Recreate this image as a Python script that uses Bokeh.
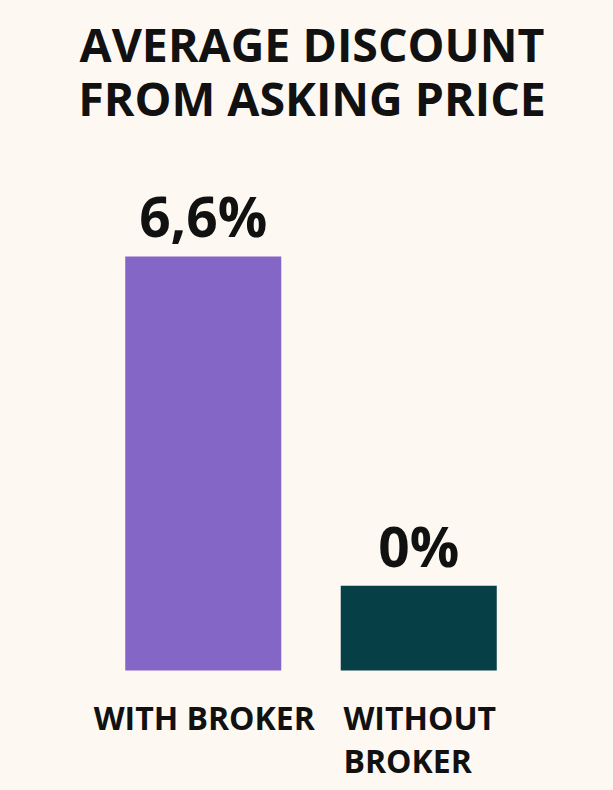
from bokeh.plotting import figure
from bokeh.models import ColumnDataSource, FactorRange, Range1d, LabelSet, Label
from bokeh.core.properties import value
from bokeh.embed import file_html
from bokeh.resources import INLINE
from jinja2 import Template

# ---- data ----
categories = ["WITH BROKER", "WITHOUT\nBROKER"]
values = [6.6, 0.0]
value_labels = ["6,6%", "0%"]
colors = ["#8466c7", "#073f46"]
title_lines = ["AVERAGE DISCOUNT", "FROM ASKING PRICE"]

BG = "#fdf9f2"
BASE = -1.7  # visual floor of the bars (bars start below zero)
W, H = 597, 774

source = ColumnDataSource(dict(cat=categories, val=values, lab=value_labels,
                               col=colors, base=[BASE] * len(values)))

p = figure(width=W, height=H, output_backend="svg", toolbar_location=None,
           x_range=FactorRange(*categories, range_padding=0.3666),
           y_range=Range1d(-3.945, 11.57),
           x_axis_location=None, y_axis_location=None,
           min_border=0, min_border_left=8)

p.background_fill_color = BG
p.border_fill_color = BG
p.outline_line_color = None
p.grid.grid_line_color = None

p.vbar(x="cat", top="val", bottom="base", width=0.724, color="col",
       line_color=None, source=source)

# value labels above bars
p.add_layout(LabelSet(x="cat", y="val", text="lab", source=source,
                      text_align="center", text_baseline="alphabetic", y_offset=19,
                      text_font=value("Open Sans"), text_font_style="bold",
                      text_font_size="55px", text_color="#111111"))

# category labels below bars
p.add_layout(LabelSet(x="cat", y="base", text="cat", source=source,
                      text_align="center", text_baseline="top", y_offset=-25,
                      x_offset=1,
                      text_font=value("Open Sans"), text_font_style="bold",
                      text_font_size="32px", text_color="#111111",
                      text_line_height=1.0))

# title
for line, yb in zip(title_lines, [739, 685]):
    p.add_layout(Label(x=W / 2 - 3, y=yb, x_units="screen", y_units="screen",
                       text=line, text_align="center", text_baseline="alphabetic",
                       text_font="Open Sans", text_font_style="bold",
                       text_font_size="46.5px", text_color="#111111"))

template = Template("""<!DOCTYPE html>
<html><head><meta charset="utf-8">
{{ bokeh_css }}
{{ bokeh_js }}
<style>html,body{padding:0;background:%s;} body{margin:8px;}</style>
</head><body>
{{ plot_div }}
{{ plot_script }}
</body></html>""" % BG)

open("out.html", "w").write(file_html(p, INLINE, template=template))
